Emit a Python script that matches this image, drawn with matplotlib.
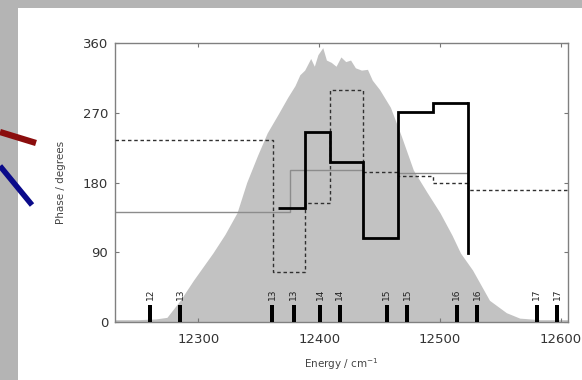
import numpy as np
import matplotlib
matplotlib.use("Agg")
import matplotlib.pyplot as plt
from matplotlib.patches import Rectangle
from matplotlib.lines import Line2D

# Laser spectrum (arbitrary units scaled onto the phase axis)
spec_energy = [12231, 12250, 12265, 12274, 12285, 12296, 12312, 12322, 12332, 12340,
               12349, 12357, 12366, 12374, 12380, 12384, 12388, 12393, 12396, 12399,
               12403, 12406, 12410, 12414, 12418, 12422, 12426, 12430, 12435, 12440,
               12444, 12450, 12459, 12468, 12478, 12489, 12500, 12510, 12517, 12527,
               12541, 12555, 12566, 12583, 12600, 12606]
spec_value = [3, 3, 4, 6, 28, 54, 89, 113, 141, 180,
              215, 244, 268, 290, 305, 319, 325, 340, 330, 345,
              354, 338, 335, 330, 342, 336, 338, 328, 325, 326,
              312, 300, 277, 240, 196, 168, 141, 112, 89, 67,
              28, 12, 5, 3, 3, 3]

# Phase patterns (bin edges in cm^-1, phase per bin in degrees)
s1_edges = [12366, 12388, 12409, 12436, 12465, 12494, 12523]
s1_phase = [147, 245, 206, 108, 271, 283]
s1_end_phase = 89

s2_edges = [12231, 12362, 12388, 12409, 12436, 12465, 12494, 12523, 12606]
s2_phase = [235, 65, 153, 299, 193, 188, 180, 170]

s3_edges = [12231, 12376, 12409, 12436, 12465, 12523]
s3_phase = [142, 196, 196, 108, 192]

# Modulator pixel positions and labels
pixel_energy = [12260, 12285, 12361, 12379, 12401, 12417, 12456, 12473, 12514, 12531, 12580, 12597]
pixel_labels = ["12", "13", "13", "13", "14", "14", "15", "15", "16", "16", "17", "17"]
pixel_height = 22

x_ticks = [12300, 12400, 12500, 12600]
y_ticks = [0, 90, 180, 270, 360]

W, H = 582, 380
fig = plt.figure(figsize=(W / 100, H / 100), dpi=100, facecolor="#b4b4b4")

# white slide panel
fig.add_artist(Rectangle((18 / W, 0), 1 - 18 / W, (H - 8) / H,
                         transform=fig.transFigure, facecolor="white",
                         edgecolor="none", zorder=0))

ax = fig.add_axes([115 / W, (H - 322) / H, (568 - 115) / W, (322 - 43) / H])
ax.set_facecolor("none")

ax.fill_between(spec_energy, spec_value, 0, color="#c2c2c2", linewidth=0, zorder=1)

ax.stairs(s3_phase, s3_edges, baseline=None, color="#8c8c8c", linewidth=1.0, zorder=2)
ax.stairs(s2_phase, s2_edges, baseline=None, color="#303030", linewidth=1.0,
          linestyle=(0, (2.5, 2)), zorder=3)
ax.stairs(s1_phase, s1_edges, baseline=None, color="black", linewidth=2.0, zorder=4)
ax.plot([s1_edges[-1], s1_edges[-1]], [s1_phase[-1], s1_end_phase],
        color="black", linewidth=2.0, zorder=4)

ax.bar(pixel_energy, pixel_height, width=3.2, bottom=0, color="black", zorder=5)
for e, lab in zip(pixel_energy, pixel_labels):
    ax.text(e, pixel_height + 6, lab, rotation=90, ha="center", va="bottom",
            fontsize=6.5, color="#222222", zorder=5)

ax.set_xlim(12231, 12606)
ax.set_ylim(0, 360)
ax.set_xticks(x_ticks)
ax.set_yticks(y_ticks)
ax.set_xticklabels([str(v) for v in x_ticks])
ax.set_yticklabels([str(v) for v in y_ticks])
ax.tick_params(axis="both", direction="in", length=3, width=0.8, color="#777777",
               labelsize=9.5, labelcolor="#333333", top=True, right=True)
ax.tick_params(axis="x", pad=8)
ax.tick_params(axis="y", pad=5)
for sp in ax.spines.values():
    sp.set_color("#808080")
    sp.set_linewidth(1.0)

ax.set_xlabel("Energy / cm$^{-1}$", fontsize=7.5, color="#444444", labelpad=7)
ax.set_ylabel("Phase / degrees", fontsize=7.5, color="#444444", labelpad=12)

# pointer strokes on the left of the slide
fig.add_artist(Line2D([0, 36 / W], [1 - 132 / H, 1 - 143 / H], transform=fig.transFigure,
                      color="#8b0d0d", linewidth=4.5, solid_capstyle="butt", zorder=10))
fig.add_artist(Line2D([0, 32 / W], [1 - 166 / H, 1 - 205 / H], transform=fig.transFigure,
                      color="#0b0b8a", linewidth=4.0, solid_capstyle="butt", zorder=10))

fig.savefig("out.png", dpi=100, facecolor=fig.get_facecolor())
